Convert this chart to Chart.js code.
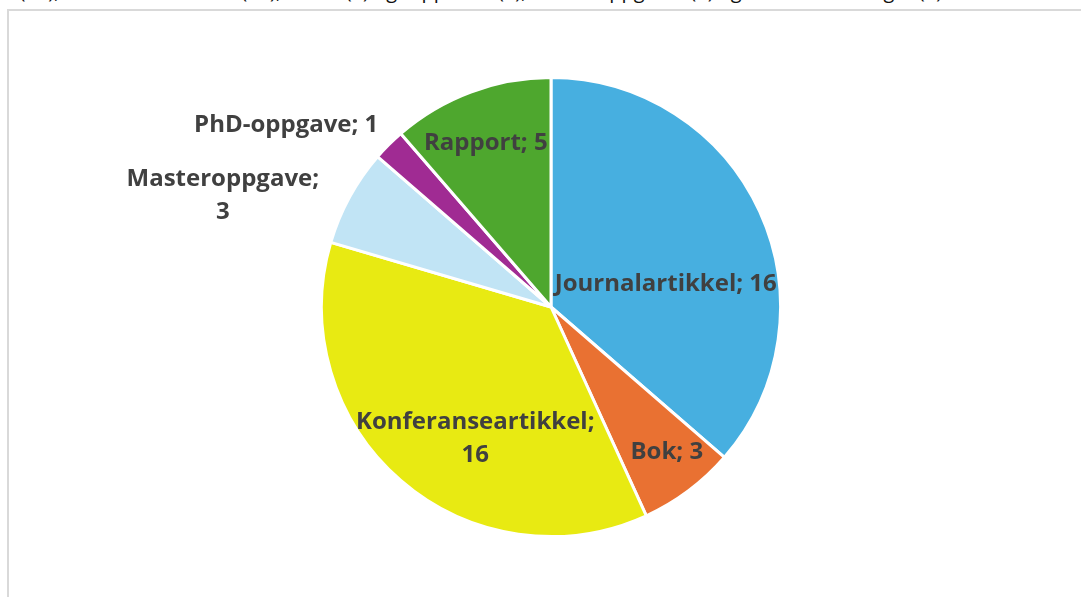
<!DOCTYPE html>
<html>
<head>
<meta charset="utf-8">
<script src="https://cdn.jsdelivr.net/npm/chart.js@4/dist/chart.umd.min.js"></script>
<style>
  html, body { margin: 0; padding: 0; background: #fff; overflow: hidden; }
  #wrap { position: relative; width: 1081px; height: 597px; }
  #toptext {
    position: absolute; left: -118px; top: -23px; white-space: nowrap;
    font-family: "Open Sans", sans-serif; font-size: 20px; color: #111;
  }
  #frame {
    position: absolute; left: 7px; top: 9px; width: 1100px; height: 620px;
    border: 2px solid #d9d9d9; box-sizing: border-box;
  }
  #chart { position: absolute; left: 0; top: 0; }
</style>
</head>
<body>
<div id="wrap">
  <div id="toptext">journalartikler (16), konferanseartikler (16), bøker (3) og rapporter (5), masteroppgaver (3) og PhD-avhandlinger (1)</div>
  <div id="frame"></div>
  <canvas id="chart" width="1081" height="597"></canvas>
</div>
<script>
// Publikasjonstyper
const categories = ['Journalartikkel', 'Bok', 'Konferanseartikkel', 'Masteroppgave', 'PhD-oppgave', 'Rapport'];
const counts = [16, 3, 16, 3, 1, 5];
const colors = ['#47AFE0', '#E97132', '#E8EA12', '#C1E4F5', '#A02B93', '#4EA72E'];

// plassering av etikettene (andel av radius, vinkelforskyvning i grader, linjeskift)
const labelPlacement = [
  { r: 0.51, dAngle: 13.2, wrap: false },
  { r: 0.81, dAngle: -1.7, wrap: false },
  { r: 0.66, dAngle: -10.9, wrap: true },
  { r: 1.51, dAngle: -9.9, wrap: true },
  { r: 1.40, dAngle: -10.5, wrap: false },
  { r: 0.77, dAngle: -1.2, wrap: false }
];

const pieLabels = {
  id: 'pieLabels',
  afterDatasetsDraw(chart) {
    const ctx = chart.ctx;
    const meta = chart.getDatasetMeta(0);
    ctx.save();
    ctx.font = 'bold 24px "Open Sans", sans-serif';
    ctx.fillStyle = '#404040';
    ctx.textAlign = 'center';
    ctx.textBaseline = 'middle';
    const lineH = 33;
    meta.data.forEach((arc, i) => {
      const p = arc.getProps(['x', 'y', 'startAngle', 'endAngle', 'outerRadius'], true);
      const place = labelPlacement[i];
      const a = (p.startAngle + p.endAngle) / 2 + place.dAngle * Math.PI / 180;
      const cx = p.x + Math.cos(a) * p.outerRadius * place.r;
      const cy = p.y + Math.sin(a) * p.outerRadius * place.r;
      const lines = place.wrap
        ? [categories[i] + ';', String(counts[i])]
        : [categories[i] + '; ' + counts[i]];
      const y0 = cy - (lines.length - 1) * lineH / 2;
      lines.forEach((t, k) => ctx.fillText(t, cx, y0 + k * lineH));
    });
    ctx.restore();
  }
};

const ctx = document.getElementById('chart').getContext('2d');
new Chart(ctx, {
  type: 'pie',
  data: {
    labels: categories,
    datasets: [{
      data: counts,
      backgroundColor: colors,
      borderColor: '#ffffff',
      borderWidth: 3
    }]
  },
  options: {
    responsive: false,
    animation: false,
    layout: { padding: { top: 76, bottom: 59, left: 21, right: 0 } },
    plugins: {
      legend: { display: false },
      tooltip: { enabled: false }
    }
  },
  plugins: [pieLabels]
});
</script>
</body>
</html>
